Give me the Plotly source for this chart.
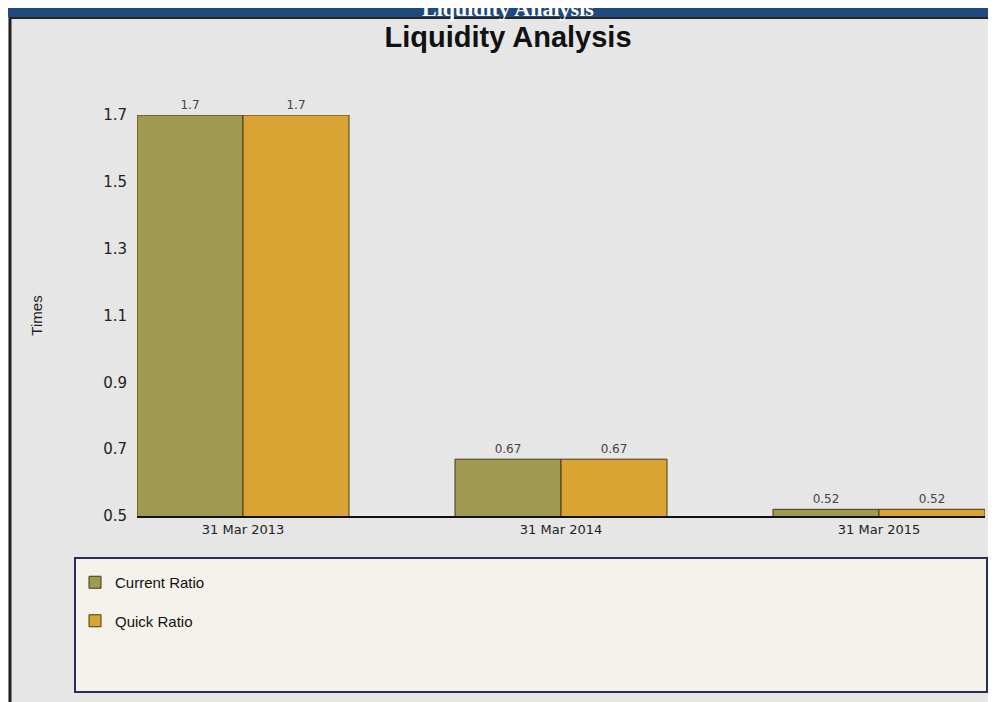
import plotly.graph_objects as go

categories = ["31 Mar 2013", "31 Mar 2014", "31 Mar 2015"]
current_ratio = [1.7, 0.67, 0.52]
quick_ratio = [1.7, 0.67, 0.52]
current_labels = ["1.7", "0.67", "0.52"]
quick_labels = ["1.7", "0.67", "0.52"]
y_ticks = [0.5, 0.7, 0.9, 1.1, 1.3, 1.5, 1.7]

# page has an 8px body margin, so the figure is 988x694 and coordinates
# below are expressed in reference-page pixels, shifted by OFF.
OFF = 8
W, H = 988, 694
L, R, T, B = 129, 11, 107, 186
pw, ph = W - L - R, H - T - B

def px_x(p):
    return (p - OFF - L) / pw

def px_y(p):
    return (H - B - (p - OFF)) / ph

fig = go.Figure()
fig.add_trace(go.Bar(
    name="Current Ratio", x=categories, y=current_ratio,
    text=current_labels, textposition="outside",
    textfont=dict(family="DejaVu Sans", size=12, color="#444444"),
    marker=dict(color="#a09a50", line=dict(color="#3d3a18", width=1)),
    legendgroup="a", cliponaxis=False,
))
fig.add_trace(go.Bar(
    name="Quick Ratio", x=categories, y=quick_ratio,
    text=quick_labels, textposition="outside",
    textfont=dict(family="DejaVu Sans", size=12, color="#444444"),
    marker=dict(color="#d9a434", line=dict(color="#4a3a10", width=1)),
    legendgroup="b", cliponaxis=False,
))

shapes = [
    # legend frame
    dict(type="rect", xref="paper", yref="paper",
         x0=px_x(75), x1=px_x(987), y0=px_y(558), y1=px_y(692),
         line=dict(color="#2c2c5c", width=2), fillcolor="#f4f2ea", layer="below"),
    # header bar
    dict(type="rect", xref="paper", yref="paper",
         x0=px_x(0), x1=px_x(1000), y0=px_y(17), y1=px_y(0),
         line=dict(width=0), fillcolor="#1f4a7e"),
    # line under header
    dict(type="line", xref="paper", yref="paper",
         x0=px_x(10), x1=px_x(1000), y0=px_y(18), y1=px_y(18),
         line=dict(color="#222222", width=2)),
    # left border
    dict(type="line", xref="paper", yref="paper",
         x0=px_x(10), x1=px_x(10), y0=px_y(17), y1=px_y(710),
         line=dict(color="#222222", width=3)),
]

annotations = [
    dict(text="<b>Liquidity Analysis</b>", xref="paper", yref="paper",
         x=px_x(508), y=px_y(8), xanchor="center", yanchor="middle",
         showarrow=False, font=dict(family="Liberation Serif", size=22, color="white")),
]

fig.update_layout(
    width=W, height=H,
    margin=dict(l=L, r=R, t=T, b=B, autoexpand=False),
    paper_bgcolor="#e6e6e6", plot_bgcolor="rgba(0,0,0,0)",
    barmode="group", bargap=1/3, bargroupgap=0,
    title=dict(text="<b>Liquidity Analysis</b>", x=px_x(508), xref="paper",
               y=1 - (37 - OFF) / H, yanchor="middle", xanchor="center",
               font=dict(family="Liberation Sans", size=29, color="#111111")),
    xaxis=dict(range=[-1/3, 7/3], showline=True, linecolor="#111111", linewidth=2,
               ticks="", tickfont=dict(family="DejaVu Sans", size=13, color="#222222"),
               showgrid=False, zeroline=False),
    yaxis=dict(range=[0.5, 1.7], tickvals=y_ticks, ticktext=[f"{v:.1f}" for v in y_ticks],
               showgrid=False, zeroline=False, showline=False, ticks="",
               ticklabelstandoff=9,
               tickfont=dict(family="DejaVu Sans", size=15, color="#222222"),
               title=dict(text="Times", standoff=56,
                          font=dict(family="Liberation Sans", size=15, color="#222222"))),
    legend=dict(x=px_x(75), y=px_y(566), xanchor="left", yanchor="top",
                bgcolor="rgba(0,0,0,0)", borderwidth=0,
                font=dict(family="Liberation Sans", size=15, color="#111111"),
                traceorder="grouped", tracegroupgap=16, itemwidth=30),
    shapes=shapes, annotations=annotations,
)

fig.write_html("out.html")
